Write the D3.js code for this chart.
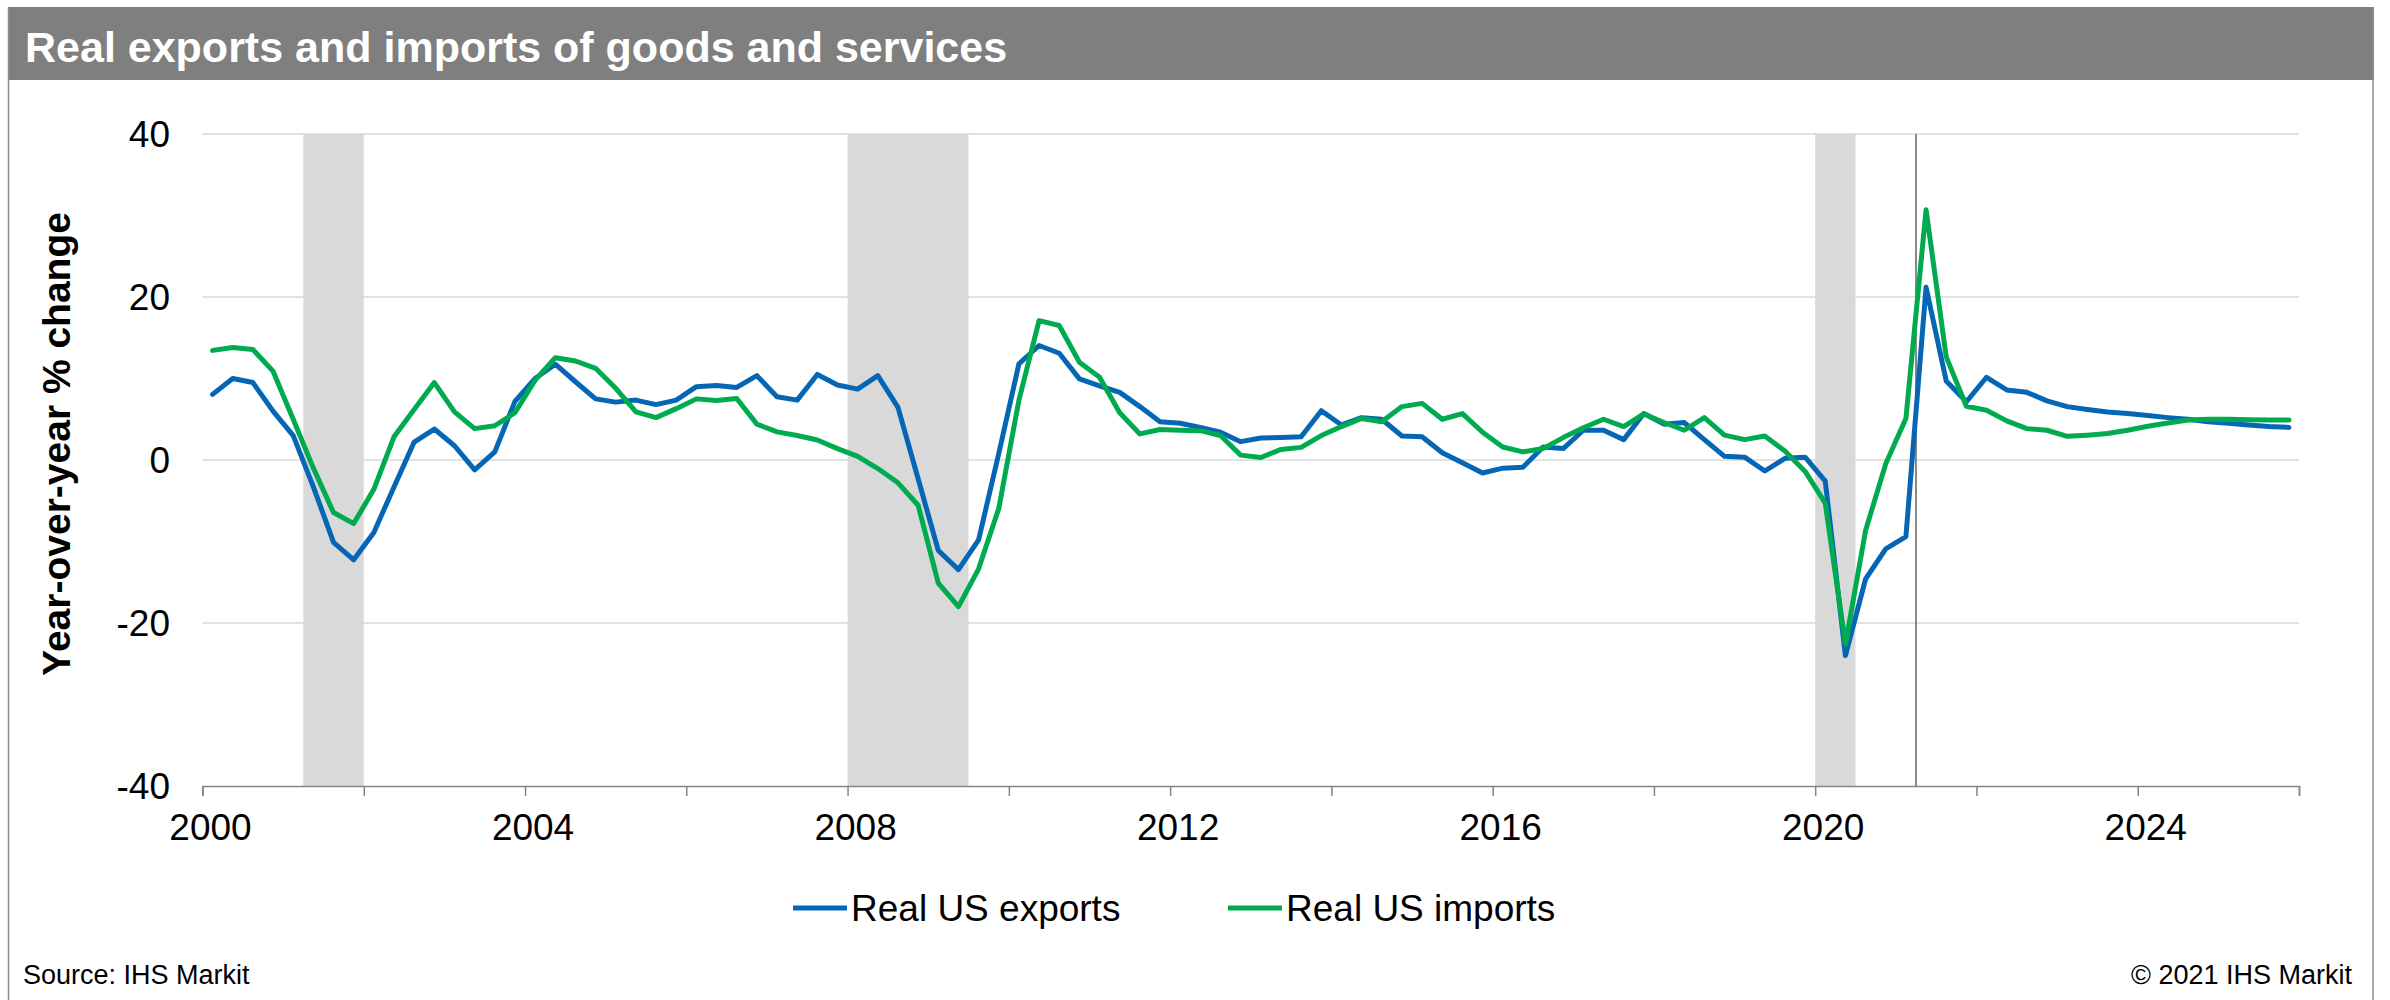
<!DOCTYPE html>
<html><head><meta charset="utf-8">
<script src="https://cdn.jsdelivr.net/npm/d3@7"></script>
<style>html,body{margin:0;padding:0;background:#fff;} svg{display:block;}</style>
</head><body>
<svg id="chart" width="2390" height="1000"></svg>
<script>
// ---- data ----
const title = "Real exports and imports of goods and services";
const yTitle = "Year-over-year % change";
const seriesNames = ["Real US exports", "Real US imports"];
const seriesColors = ["#0466B4", "#00AA4F"];
const startYear = 2000;
// quarterly, 2000Q1 .. 2025Q4
const exportsYoY = [
  8.05, 10.0, 9.5, 6.0,
  3.0, -3.3, -10.1, -12.25,
  -8.9, -3.3, 2.2, 3.8,
  1.75, -1.2, 1.0, 7.2,
  10.0, 11.75, 9.6, 7.5,
  7.1, 7.35, 6.8, 7.35,
  9.0, 9.15, 8.9, 10.35,
  7.75, 7.35, 10.5, 9.2,
  8.7, 10.35, 6.45, -2.3,
  -11.1, -13.45, -9.8, 0.8,
  11.8, 14.05, 13.1, 9.95,
  9.1, 8.3, 6.55, 4.7,
  4.5, 4.0, 3.4, 2.25,
  2.7, 2.75, 2.85, 6.05,
  4.3, 5.2, 5.0, 2.95,
  2.85, 0.9, -0.35, -1.6,
  -1.0, -0.9, 1.6, 1.4,
  3.65, 3.65, 2.5, 5.7,
  4.4, 4.6, 2.5, 0.45,
  0.35, -1.35, 0.2, 0.35,
  -2.6, -24.0, -14.6, -10.9,
  -9.4, 21.2, 9.7, 7.15,
  10.15, 8.6, 8.3, 7.25,
  6.55, 6.2, 5.9, 5.7,
  5.45, 5.2, 5.0, 4.7,
  4.5, 4.3, 4.1, 4.0
];
const importsYoY = [
  13.45, 13.8, 13.55, 10.9,
  5.0, -1.0, -6.45, -7.8,
  -3.6, 2.85, 6.2, 9.5,
  5.9, 3.85, 4.2, 5.8,
  9.8, 12.55, 12.15, 11.25,
  8.8, 5.9, 5.2, 6.3,
  7.5, 7.3, 7.55, 4.4,
  3.45, 3.0, 2.45, 1.4,
  0.45, -1.05, -2.8, -5.55,
  -15.1, -18.0, -13.35, -5.95,
  7.35, 17.1, 16.5, 12.0,
  10.15, 5.8, 3.2, 3.75,
  3.65, 3.6, 3.0, 0.6,
  0.3, 1.3, 1.55, 3.0,
  4.1, 5.1, 4.7, 6.55,
  6.95, 5.0, 5.7, 3.4,
  1.6, 1.0, 1.4, 2.75,
  3.95, 5.0, 4.1, 5.65,
  4.6, 3.65, 5.2, 3.05,
  2.5, 2.95, 1.1, -1.4,
  -5.3, -22.6, -8.65, -0.45,
  5.1, 30.7, 12.65, 6.6,
  6.1, 4.8, 3.85, 3.65,
  2.9, 3.05, 3.25, 3.65,
  4.15, 4.55, 4.9, 5.0,
  5.0, 4.95, 4.9, 4.9
];
const recessions = [[2001.25, 2002.0], [2008.0, 2009.5], [2020.0, 2020.5]];
const forecastStart = 2021.25;
const yTicks = [-40, -20, 0, 20, 40];
const xLabelYears = [2000, 2004, 2008, 2012, 2016, 2020, 2024];
const xTickYears = [2000, 2002, 2004, 2006, 2008, 2010, 2012, 2014, 2016, 2018, 2020, 2022, 2024, 2026];
const sourceText = "Source: IHS Markit";
const copyrightText = "\u00A9 2021 IHS Markit";

// ---- layout ----
const FONT = "'Liberation Sans', Arial, sans-serif";
const svg = d3.select("#chart");
const x = d3.scaleLinear().domain([2000, 2026]).range([202.5, 2299]);
const y = d3.scaleLinear().domain([-40, 40]).range([786, 134]);
const qTime = i => startYear + (i + 0.5) / 4;

// frame + title bar
svg.append("rect").attr("x", 8).attr("y", 7).attr("width", 2366).attr("height", 73).attr("fill", "#7F7F7F");
svg.append("line").attr("x1", 8.5).attr("x2", 8.5).attr("y1", 7).attr("y2", 1000).attr("stroke", "#8C8C8C").attr("stroke-width", 1.5);
svg.append("line").attr("x1", 2373).attr("x2", 2373).attr("y1", 7).attr("y2", 1000).attr("stroke", "#8C8C8C").attr("stroke-width", 1.5);
svg.append("text").attr("x", 25).attr("y", 61.5).attr("fill", "#fff")
  .attr("font-family", FONT).attr("font-weight", "bold").attr("font-size", 43).text(title);

// recession bands
svg.append("g").selectAll("rect").data(recessions).join("rect")
  .attr("x", d => x(d[0])).attr("width", d => x(d[1]) - x(d[0]))
  .attr("y", y(40)).attr("height", y(-40) - y(40)).attr("fill", "#D9D9D9");

// gridlines
svg.append("g").selectAll("line").data(yTicks.filter(v => v > -40)).join("line")
  .attr("x1", x(2000)).attr("x2", x(2026)).attr("y1", d => y(d)).attr("y2", d => y(d))
  .attr("stroke", "#D9D9D9").attr("stroke-width", 1.5);

// x axis
const xAxis = d3.axisBottom(x).tickValues(xTickYears).tickSize(10).tickFormat("");
const gx = svg.append("g").attr("transform", `translate(0,${y(-40)})`).call(xAxis);
gx.select(".domain").attr("stroke", "#868686").attr("stroke-width", 1.5);
gx.selectAll(".tick line").attr("stroke", "#868686").attr("stroke-width", 1.5);
svg.append("g").selectAll("text").data(xLabelYears).join("text")
  .attr("x", d => x(d) + 8).attr("y", 840).attr("text-anchor", "middle")
  .attr("font-family", FONT).attr("font-size", 37).attr("fill", "#000").text(d => d);

// y labels
const yAxis = d3.axisLeft(y).tickValues(yTicks).tickSize(0).tickPadding(0).tickFormat(d => String(d));
const gy = svg.append("g").attr("transform", `translate(170,0)`).call(yAxis);
gy.select(".domain").remove();
gy.selectAll("text").attr("font-family", FONT).attr("font-size", 37).attr("fill", "#000").attr("dy", "0.35em");

svg.append("text").attr("transform", "translate(70,444) rotate(-90)").attr("text-anchor", "middle")
  .attr("font-family", FONT).attr("font-weight", "bold").attr("font-size", 39).attr("fill", "#000").text(yTitle);

// forecast divider
svg.append("line").attr("x1", x(forecastStart)).attr("x2", x(forecastStart))
  .attr("y1", y(40)).attr("y2", y(-40)).attr("stroke", "#6E6E6E").attr("stroke-width", 1.6);

// lines
const line = d3.line().x((d, i) => x(qTime(i))).y(d => y(d));
[exportsYoY, importsYoY].forEach((s, k) => {
  svg.append("path").datum(s).attr("d", line).attr("fill", "none")
    .attr("stroke", seriesColors[k]).attr("stroke-width", 5)
    .attr("stroke-linejoin", "round").attr("stroke-linecap", "round");
});

// legend
const legendX = [793, 1228];
seriesNames.forEach((n, k) => {
  svg.append("line").attr("x1", legendX[k]).attr("x2", legendX[k] + 54).attr("y1", 908).attr("y2", 908)
    .attr("stroke", seriesColors[k]).attr("stroke-width", 5);
  svg.append("text").attr("x", legendX[k] + 58).attr("y", 921).attr("font-family", FONT)
    .attr("font-size", 37).attr("fill", "#000").text(n);
});

// footer
svg.append("text").attr("x", 23).attr("y", 984).attr("font-family", FONT).attr("font-size", 27).attr("fill", "#000").text(sourceText);
svg.append("text").attr("x", 2352).attr("y", 984).attr("text-anchor", "end").attr("font-family", FONT).attr("font-size", 27).attr("fill", "#000").text(copyrightText);
</script>
</body></html>
